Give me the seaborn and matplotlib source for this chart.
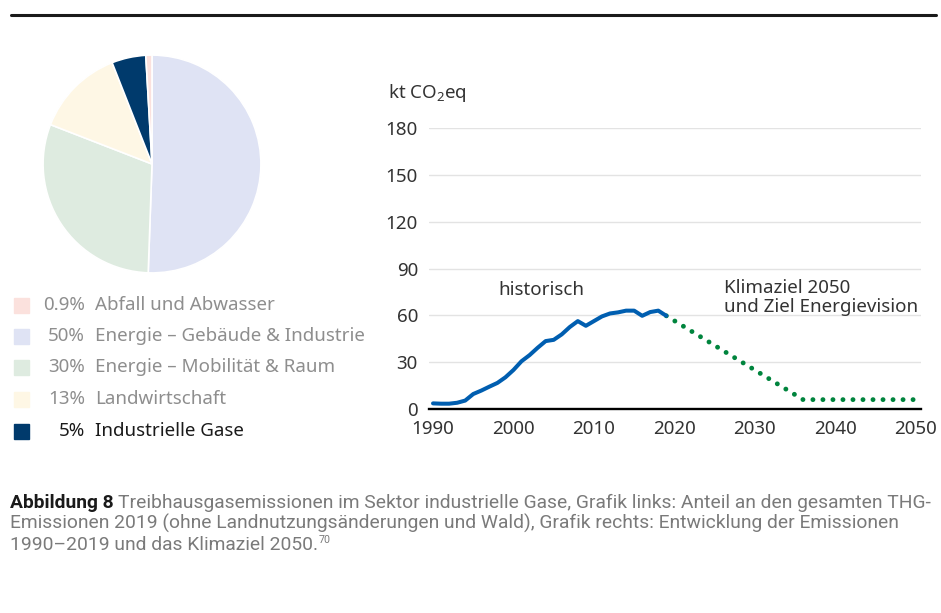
import matplotlib
matplotlib.use("Agg")
import matplotlib.pyplot as plt
import seaborn as sns
import pandas as pd
from matplotlib.lines import Line2D
from matplotlib.patches import Rectangle

# Daten
kategorien = ["Abfall und Abwasser", "Energie – Gebäude & Industrie",
              "Energie – Mobilität & Raum", "Landwirtschaft", "Industrielle Gase"]
anteile = [0.9, 50, 30, 13, 5]
anteil_texte = ["0.9%", "50%", "30%", "13%", "5%"]
farben = ["#fbe1dd", "#dfe3f4", "#deebe0", "#fef7e5", "#003a6c"]
pie_reihenfolge = [1, 2, 3, 4, 0]  # im Uhrzeigersinn ab 12 Uhr

jahre_hist = list(range(1990, 2020))
werte_hist = [3.6, 3.4, 3.4, 4.0, 5.4, 9.6, 11.8, 14.3, 16.7, 20.3,
              25.0, 30.6, 34.5, 39.2, 43.5, 44.3, 47.8, 52.5, 56.3, 53.3,
              56.3, 59.3, 61.2, 61.9, 63.0, 63.0, 59.7, 62.1, 63.0, 59.7]
jahre_ziel = [2019, 2036, 2050]
werte_ziel = [59.7, 6.0, 6.0]

x_ticks = [1990, 2000, 2010, 2020, 2030, 2040, 2050]
y_ticks = [0, 30, 60, 90, 120, 150, 180]

sns.set_theme(style="white")
plt.rcParams["font.family"] = ["Noto Sans", "DejaVu Sans"]
plt.rcParams["mathtext.fontset"] = "custom"
plt.rcParams["mathtext.rm"] = "Noto Sans"

FS = 13.5
W, H = 941, 613
fig = plt.figure(figsize=(W / 100, H / 100), dpi=100)

def box(l, t, r, b):
    return [l / W, 1 - b / H, (r - l) / W, (b - t) / H]

# obere Linie
fig.add_artist(Line2D([11 / W, 936 / W], [1 - 15 / H, 1 - 15 / H],
                      color="#1a1a1a", lw=2.2, transform=fig.transFigure))

# Kuchendiagramm
ax_pie = fig.add_axes(box(42, 54, 262, 274))
ax_pie.pie([anteile[i] for i in pie_reihenfolge],
           colors=[farben[i] for i in pie_reihenfolge],
           startangle=90, counterclock=False,
           wedgeprops=dict(edgecolor="white", linewidth=1.2))
ax_pie.set_xlim(-1.01, 1.01)
ax_pie.set_ylim(-1.01, 1.01)
ax_pie.set_aspect("equal")
ax_pie.axis("off")

# Legende
leg_y = [305, 336, 367, 399, 431]
for i, yy in enumerate(leg_y):
    fig.add_artist(Rectangle((14 / W, 1 - (yy + 7.5) / H), 15 / W, 15 / H,
                             color=farben[i], transform=fig.transFigure))
    tc = "#1a1a1a" if i == 4 else "#8e8e8e"
    fig.text(85 / W, 1 - yy / H, anteil_texte[i], ha="right", va="center",
             fontsize=FS, color=tc)
    fig.text(95 / W, 1 - yy / H, kategorien[i], ha="left", va="center",
             fontsize=FS, color=tc)

# Liniendiagramm
ax = fig.add_axes(box(429, 128, 921, 409))
df_hist = pd.DataFrame({"Jahr": jahre_hist, "Wert": werte_hist})
df_ziel = pd.DataFrame({"Jahr": jahre_ziel, "Wert": werte_ziel})
sns.lineplot(data=df_hist, x="Jahr", y="Wert", ax=ax, color="#005eb0",
             lw=2.9, solid_capstyle="round", solid_joinstyle="round", zorder=4)
ax.plot(df_ziel["Jahr"], df_ziel["Wert"], color="#00843d", lw=3.5,
        linestyle=(0, (0.01, 2.05)), dash_capstyle="round", zorder=3)
ax.set_xlim(1989.5, 2050.66)
ax.set_ylim(0, 180)
ax.set_xticks(x_ticks)
ax.set_yticks(y_ticks)
ax.set_xlabel("")
ax.set_ylabel("")
for s in ["top", "right", "left"]:
    ax.spines[s].set_visible(False)
ax.spines["bottom"].set_color("black")
ax.spines["bottom"].set_linewidth(1.7)
ax.spines["bottom"].set_zorder(5)
ax.grid(axis="y", color="#e3e3e3", lw=1.0)
ax.grid(axis="x", visible=False)
ax.set_axisbelow(True)
ax.tick_params(axis="both", length=0, labelsize=FS, labelcolor="#333333")
ax.tick_params(axis="y", pad=8)
ax.tick_params(axis="x", pad=8)

ax.text(2003.5, 76.3, "historisch", ha="center", va="center",
        fontsize=FS, color="#333333")
ax.text(2026.2, 71.5, "Klimaziel 2050\nund Ziel Energievision", ha="left",
        va="center", fontsize=FS, color="#333333", linespacing=1.05)
fig.text(388 / W, 1 - 93 / H, r"kt CO$_2$eq", ha="left", va="center",
         fontsize=FS, color="#333333")

# Bildunterschrift (Schriftgroesse so gewaehlt, dass Zeile 1 bis x=929 reicht)
cap_font = ["Roboto", "DejaVu Sans"]
grau = "#7a7a7a"
rest1 = ("Treibhausgasemissionen im Sektor industrielle Gase, Grafik links: "
         "Anteil an den gesamten THG-")
zeile2 = ("Emissionen 2019 (ohne Landnutzungsänderungen und Wald), Grafik rechts: "
          "Entwicklung der Emissionen")
zeile3 = "1990–2019 und das Klimaziel 2050."

fig.canvas.draw()
renderer = fig.canvas.get_renderer()
t_bold = fig.text(10 / W, 1 - 508 / H, "Abbildung 8", ha="left", va="baseline",
                  fontsize=12, fontweight="bold", color="#1a1a1a",
                  family=cap_font)
t_rest = fig.text(0, 1 - 508 / H, rest1, ha="left", va="baseline",
                  fontsize=12, color=grau, family=cap_font)
w_test = (t_bold.get_window_extent(renderer).width
          + t_rest.get_window_extent(renderer).width + 4)
cap_size = 12 * 919 / w_test
t_bold.set_fontsize(cap_size)
t_rest.set_fontsize(cap_size)
bb = t_bold.get_window_extent(renderer)
t_rest.set_x((bb.x1 + 4) / W)
fig.text(10 / W, 1 - 529 / H, zeile2, ha="left", va="baseline",
         fontsize=cap_size, color=grau, family=cap_font)
t3 = fig.text(10 / W, 1 - 550 / H, zeile3, ha="left", va="baseline",
              fontsize=cap_size, color=grau, family=cap_font)
bb3 = t3.get_window_extent(renderer)
fig.text((bb3.x1 + 1) / W, 1 - 543 / H, "70", ha="left", va="baseline",
         fontsize=cap_size * 0.55, color=grau, family=cap_font)

fig.savefig("out.png", dpi=100)
